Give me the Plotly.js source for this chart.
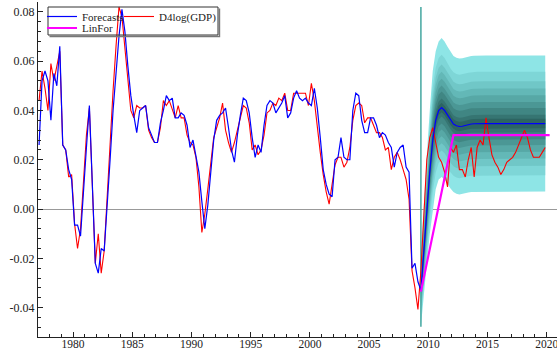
<!DOCTYPE html>
<html><head><meta charset="utf-8">
<script src="https://cdn.plot.ly/plotly-3.0.1.min.js"></script>
<style>html,body{margin:0;padding:0;background:#fff}#chart{width:557px;height:352px}</style>
</head><body><div id="chart"></div>
<script>
// quarterly data, first observation 1977Q1
const startYear = 1977;

// D4log(GDP): actual values, 1977Q1 .. 2009Q2
const histD4 = [
  0.044, 0.056, 0.049, 0.040,   0.059, 0.052, 0.058, 0.064,
  0.026, 0.024, 0.013, 0.014,   -0.006, -0.016, -0.008, 0.009,
  0.030, 0.041, 0.012, -0.022,  -0.010, -0.026, -0.017, 0.006,
  0.028, 0.048, 0.066, 0.082,   0.078, 0.066, 0.052, 0.040,
  0.037, 0.042, 0.041, 0.041,   0.042, 0.032, 0.029, 0.027,
  0.027, 0.033, 0.044, 0.042,   0.044, 0.040, 0.037, 0.042,
  0.037, 0.037, 0.030, 0.027,   0.026, 0.021, 0.009, -0.0095,
  -0.002, 0.008, 0.020, 0.029,  0.033, 0.037, 0.043, 0.032,
  0.027, 0.023, 0.027, 0.032,   0.037, 0.042, 0.041, 0.035,
  0.024, 0.026, 0.022, 0.024,   0.030, 0.039, 0.040, 0.043,
  0.042, 0.045, 0.044, 0.047,   0.040, 0.040, 0.047, 0.047,
  0.047, 0.047, 0.047, 0.042,   0.051, 0.044, 0.033, 0.023,
  0.014, 0.007, 0.002, 0.010,   0.018, 0.021, 0.021, 0.017,
  0.019, 0.025, 0.036, 0.042,   0.043, 0.042, 0.035, 0.037,
  0.037, 0.034, 0.031, 0.031,   0.029, 0.024, 0.025, 0.016,
  0.021, 0.023, 0.020, 0.016,   0.012, 0.004, -0.025, -0.032,
  -0.0407, -0.025
];
// D4log(GDP): actual values over the forecast period, 2009Q3 .. 2019Q4
const futD4 = [
  0.000, 0.020,
  0.029, 0.033, 0.027, 0.021,   0.019, 0.015, 0.009, 0.025,
  0.023, 0.026, 0.016, 0.016,   0.013, 0.020, 0.025, 0.013,
  0.025, 0.028, 0.026, 0.037,   0.029, 0.022, 0.019, 0.017,
  0.014, 0.016, 0.019, 0.020,   0.021, 0.023, 0.026, 0.029,
  0.032, 0.029, 0.024, 0.021,   0.021, 0.021, 0.023, 0.025
];
// Forecasts: 1-step fitted values 1977Q1 .. 2009Q2 (last = forecast origin)
const histFit = [
  0.026, 0.052, 0.056, 0.052,   0.036, 0.055, 0.050, 0.066,
  0.026, 0.024, 0.016, 0.012,   -0.0065, -0.0065, -0.011, 0.009,
  0.025, 0.042, 0.012, -0.022,  -0.026, -0.016, -0.017, 0.000,
  0.020, 0.040, 0.055, 0.070,   0.081, 0.072, 0.058, 0.046,
  0.038, 0.031, 0.040, 0.041,   0.042, 0.033, 0.030, 0.027,
  0.027, 0.035, 0.040, 0.046,   0.044, 0.045, 0.037, 0.037,
  0.039, 0.038, 0.034, 0.025,   0.028, 0.021, 0.015, 0.003,
  -0.008, 0.0015, 0.016, 0.028, 0.036, 0.038, 0.039, 0.041,
  0.033, 0.024, 0.019, 0.030,   0.038, 0.045, 0.044, 0.039,
  0.029, 0.021, 0.026, 0.023,   0.034, 0.042, 0.044, 0.043,
  0.039, 0.041, 0.043, 0.046,   0.037, 0.039, 0.045, 0.048,
  0.045, 0.044, 0.045, 0.043,   0.042, 0.049, 0.041, 0.029,
  0.016, 0.010, 0.006, 0.005,   0.020, 0.021, 0.029, 0.021,
  0.020, 0.020, 0.040, 0.047,   0.046, 0.036, 0.031, 0.031,
  0.037, 0.037, 0.034, 0.029,   0.031, 0.030, 0.027, 0.025,
  0.017, 0.023, 0.025, 0.026,   0.017, 0.015, -0.024, -0.022,
  -0.0295, -0.033
];
// Forecasts: dynamic forecasts 2009Q3 .. 2019Q4
const futFit = [
  -0.016, 0.000,
  0.015, 0.028, 0.036, 0.040,   0.0412, 0.040, 0.038, 0.036,
  0.0345, 0.0338, 0.0335, 0.0336, 0.0340, 0.0343, 0.0345, 0.0346,
  0.0347, 0.0347, 0.0347, 0.0347, 0.0347, 0.0347, 0.0347, 0.0347,
  0.0347, 0.0347, 0.0347, 0.0347, 0.0347, 0.0347, 0.0347, 0.0347,
  0.0347, 0.0347, 0.0347, 0.0347, 0.0347, 0.0347, 0.0347, 0.0347
];
// outer half-width of the fan, from the origin 2009Q2 .. 2019Q4
const fanHalfWidth = [
  0.0147, 0.019, 0.022,
  0.025, 0.028, 0.028, 0.028,   0.0282, 0.028, 0.0278, 0.0277,
  0.0276, 0.0276, 0.0276, 0.0276, 0.0276, 0.0276, 0.0276, 0.0276,
  0.0276, 0.0276, 0.0276, 0.0276, 0.0276, 0.0276, 0.0276, 0.0276,
  0.0276, 0.0276, 0.0276, 0.0276, 0.0276, 0.0276, 0.0276, 0.0276,
  0.0276, 0.0276, 0.0276, 0.0276, 0.0276, 0.0276, 0.0276, 0.0276
];
// relative width of each fan band, outer to inner
const bandFractions = [1, 0.76, 0.62, 0.515, 0.415, 0.315, 0.23, 0.13, 0.07];
const bandColors = [
  'rgb(142,229,230)', 'rgb(126,214,215)', 'rgb(112,199,199)',
  'rgb(99,184,183)', 'rgb(87,168,166)', 'rgb(75,151,149)',
  'rgb(64,134,131)', 'rgb(54,117,114)', 'rgb(45,101,98)'
];
// LinFor: linear forecast path
const linForX = [2009.375, 2012.125, 2020.25];
const linForY = [-0.0335, 0.030, 0.030];

const xTickVals = [1980, 1985, 1990, 1995, 2000, 2005, 2010, 2015, 2020];
const yTickVals = [-0.04, -0.02, 0, 0.02, 0.04, 0.06, 0.08];
const yTickText = ['-0.04', '-0.02', '0.00', '0.02', '0.04', '0.06', '0.08'];

const FONT = 'Liberation Serif, Times New Roman, serif';
const qx = i => startYear + (i + 0.5) / 4;

const d4 = histD4.concat(futD4);
const d4X = d4.map((_, i) => qx(i));
const fit = histFit.concat(futFit);
const fitX = fit.map((_, i) => qx(i));
const originIdx = histFit.length - 1;
const fanX = fitX.slice(originIdx);
const fanC = fit.slice(originIdx);

const traces = [];
bandFractions.forEach((f, k) => {
  const up = fanC.map((c, i) => c + f * fanHalfWidth[i]);
  const lo = fanC.map((c, i) => c - f * fanHalfWidth[i]);
  traces.push({
    x: fanX.concat(fanX.slice().reverse()),
    y: up.concat(lo.slice().reverse()),
    type: 'scatter', mode: 'lines', fill: 'toself',
    fillcolor: bandColors[k], line: {width: 0, color: bandColors[k]},
    hoverinfo: 'skip', showlegend: false
  });
});
const fanLow = Math.min(...fanC.map((c, i) => c - fanHalfWidth[i]));
const dataHigh = Math.max(...d4);
traces.push({
  x: [fanX[0], fanX[0]], y: [fanLow, dataHigh],
  type: 'scatter', mode: 'lines', line: {color: 'rgb(80,172,166)', width: 1.6},
  hoverinfo: 'skip', showlegend: false
});
traces.push({
  x: d4X, y: d4, name: 'D4log(GDP)', type: 'scatter', mode: 'lines',
  line: {color: '#ff0000', width: 1.1}, legend: 'legend3'
});
traces.push({
  x: fitX, y: fit, name: 'Forecasts', type: 'scatter', mode: 'lines',
  line: {color: '#0000ff', width: 1.2}, legend: 'legend'
});
traces.push({
  x: linForX, y: linForY, name: 'LinFor', type: 'scatter', mode: 'lines',
  line: {color: '#ff00ff', width: 2.2}, legend: 'legend2'
});

const L = 38, T = 2, B = 15, W = 557, H = 352;
const pw = W - L, ph = H - T - B;
const px = v => (v - L) / pw;
const py = v => 1 - (v - T) / ph;

const legendCommon = {
  orientation: 'h', xanchor: 'left', yanchor: 'top',
  bgcolor: 'rgba(0,0,0,0)', borderwidth: 0,
  font: {family: FONT, size: 11, color: '#222'}
};

const layout = {
  width: W, height: H,
  margin: {l: L, r: 0, t: T, b: B, pad: 0},
  paper_bgcolor: '#fff', plot_bgcolor: '#fff',
  showlegend: true,
  legend: Object.assign({x: px(42), y: py(2)}, legendCommon),
  legend3: Object.assign({x: px(119), y: py(2)}, legendCommon),
  legend2: Object.assign({x: px(42), y: py(13.5)}, legendCommon),
  xaxis: {
    range: [1977.035, 2020.87], tickmode: 'array', tickvals: xTickVals,
    ticks: 'inside', ticklen: 5, tickwidth: 1, tickcolor: '#222',
    showline: true, linecolor: '#222', linewidth: 1,
    showgrid: false, zeroline: false,
    ticklabeloverflow: 'allow', ticklabelstandoff: -4,
    tickfont: {family: FONT, size: 11.5, color: '#222'},
    minor: {tickmode: 'linear', tick0: 1980, dtick: 1, ticks: 'inside', ticklen: 3, tickcolor: '#222', showgrid: false}
  },
  yaxis: {
    range: [-0.0519, 0.084], tickmode: 'array', tickvals: yTickVals, ticktext: yTickText,
    ticks: 'inside', ticklen: 5, tickwidth: 1, tickcolor: '#222',
    showline: true, linecolor: '#222', linewidth: 1,
    showgrid: false, zeroline: true, zerolinecolor: '#999', zerolinewidth: 1,
    ticklabeloverflow: 'allow',
    tickfont: {family: FONT, size: 12, color: '#222'},
    minor: {tickmode: 'linear', tick0: 0, dtick: 0.004, ticks: 'inside', ticklen: 3, tickcolor: '#222', showgrid: false}
  },
  shapes: [
    {type: 'path', xref: 'paper', yref: 'paper', layer: 'above',
     path: 'M' + px(219.5) + ',' + py(8.5) + ' L' + px(219.5) + ',' + py(36.5) + ' L' + px(49.5) + ',' + py(36.5),
     line: {color: '#777', width: 1.4}},
    {type: 'rect', xref: 'paper', yref: 'paper', layer: 'above',
     x0: px(48), x1: px(218), y0: py(35), y1: py(7),
     line: {color: '#333', width: 1}}
  ]
};

Plotly.newPlot('chart', traces, layout, {displayModeBar: false, staticPlot: true});
</script>
</body></html>
